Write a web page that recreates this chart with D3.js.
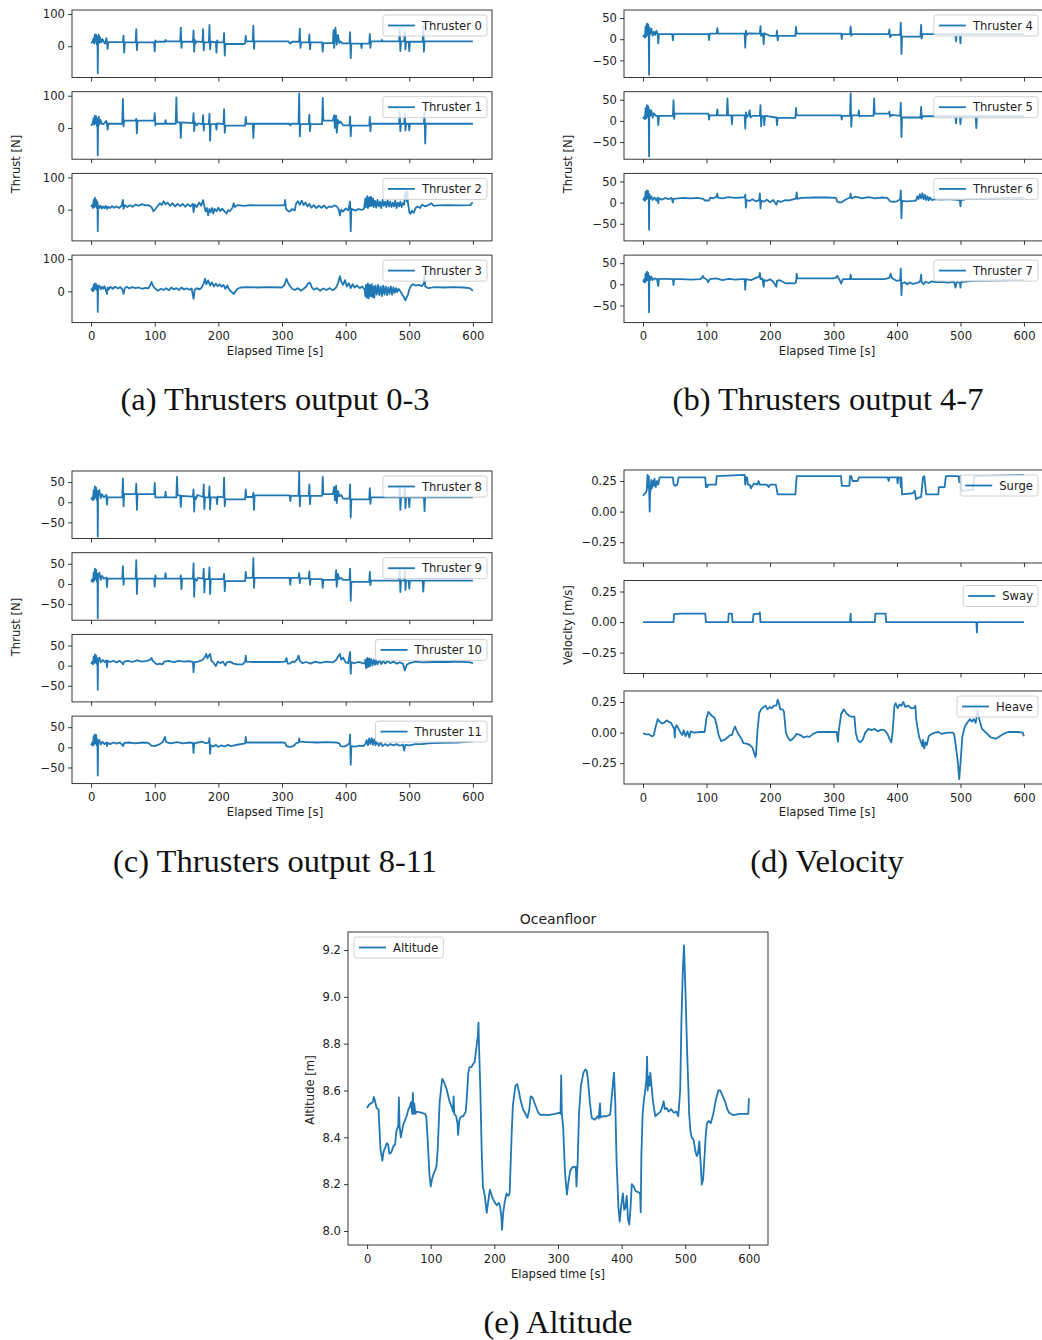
<!DOCTYPE html>
<html>
<head>
<meta charset="utf-8">
<script src="https://cdnjs.cloudflare.com/ajax/libs/d3/7.8.5/d3.min.js"></script>
<style>
  body { margin: 0; background: #fff; }
  text { font-family: "DejaVu Sans", sans-serif; fill: #222; }
  .caption { font-family: "Liberation Serif", "DejaVu Serif", serif; fill: #111; }
</style>
</head>
<body>
<script>
// ---- data (time [s], value) ----
var timeTicks = [0, 100, 200, 300, 400, 500, 600];
var thrustTicksA = [0, 100];
var thrustTicksB = [-50, 0, 50];
var velTicks = [-0.25, 0, 0.25];
var altTicks = [8.0, 8.2, 8.4, 8.6, 8.8, 9.0, 9.2];
var thrusterNames = ["Thruster 0","Thruster 1","Thruster 2","Thruster 3","Thruster 4","Thruster 5",
  "Thruster 6","Thruster 7","Thruster 8","Thruster 9","Thruster 10","Thruster 11"];
var velocityNames = ["Surge", "Sway", "Heave"];
var captions = ["(a) Thrusters output 0-3", "(b) Thrusters output 4-7", "(c) Thrusters output 8-11", "(d) Velocity", "(e) Altitude"];

var thrust0 = [[0,10],[2,12],[4,25],[5,8],[6,37],[7,15],[8,35],[9,5],[10,30],[10.5,-84],[11,20],[12,36],[13,10],[14,28],[16,12],[18,22],[20,13],[22,8],[24,25],[25,13],[26,-8],[27,13],[50,13],[51,33],[52,-20],[53,12],[70,12],[71,53],[72,-12],[73,12],[99,12],[100,-16],[101,18],[102,14],[116,14],[117,20],[118,15],[140,15],[141,58],[142,-5],[143,14],[160,14],[161,49],[162,-17],[163,20],[164,8],[166,15],[175,13],[176,53],[177,-13],[178,12],[185,12],[186,66],[187,-10],[188,14],[196,13],[197,-20],[198,18],[200,12],[208,12],[209,41],[210,-29],[211,7],[240,7],[242,9],[243,33],[244,15],[254,15],[255,64],[256,-8],[257,15],[310,15],[313,8],[316,14],[327,14],[328,55],[329,-5],[330,12],[342,12],[343,37],[344,-10],[345,12],[363,12],[364,-17],[365,10],[380,10],[381,50],[382,-5],[384,58],[386,5],[388,35],[390,10],[392,15],[395,9],[406,9],[407,44],[408,-37],[409,8],[424,8],[425,-6],[426,8],[437,8],[438,38],[439,-5],[440,15],[456,15],[457,20],[458,15],[484,15],[485,53],[486,-15],[487,15],[492,15],[493,45],[494,-10],[495,14],[499,14],[500,-15],[501,14],[521,14],[522,63],[523,-17],[524,15],[600,15]];
var thrust1 = [[0,7],[2,12],[4,30],[5,10],[6,38],[7,15],[8,36],[9,6],[10,28],[10.5,-85],[11,20],[12,35],[13,10],[15,25],[17,12],[20,13],[24,22],[25,13],[26,-5],[27,13],[49,13],[50,90],[51,5],[52,23],[70,23],[71,28],[72,-17],[73,23],[99,23],[100,46],[101,8],[102,13],[116,13],[117,24],[118,13],[133,13],[134,95],[135,17],[140,17],[141,-31],[142,17],[160,15],[161,46],[162,-10],[163,18],[166,8],[168,14],[175,12],[176,40],[177,-8],[178,12],[185,12],[186,44],[187,-40],[188,12],[196,12],[197,-5],[198,14],[208,12],[209,58],[210,-15],[211,7],[242,7],[243,34],[244,13],[254,13],[255,-31],[256,13],[312,13],[313,8],[315,13],[326,13],[327,107],[328,-26],[329,12],[342,12],[343,41],[344,-10],[345,12],[363,12],[364,93],[365,23],[380,23],[382,40],[383,0],[385,38],[386,-15],[388,25],[390,15],[392,20],[396,8],[406,8],[407,36],[408,-26],[409,7],[437,7],[438,34],[439,-10],[440,13],[484,13],[485,51],[486,-10],[487,13],[492,13],[493,45],[494,-8],[495,13],[499,13],[500,-8],[501,13],[523,13],[524,48],[525,-48],[526,13],[600,13]];
var thrust2 = [[0,9],[2,15],[3,5],[4,30],[5,8],[6,37],[7,10],[8,30],[9,5],[10,25],[10.5,-67],[11,15],[13,5],[15,12],[17,3],[19,10],[21,4],[23,12],[25,2],[27,9],[30,5],[33,11],[36,6],[40,10],[44,5],[48,12],[50,30],[51,3],[53,14],[57,8],[61,14],[65,9],[70,16],[75,12],[80,17],[85,13],[90,14],[95,8],[98,-5],[101,2],[105,12],[108,20],[111,14],[114,26],[117,16],[120,22],[124,12],[128,20],[132,10],[136,18],[140,11],[144,18],[148,9],[152,17],[156,10],[160,18],[161,-8],[163,16],[166,8],[170,22],[173,12],[176,30],[178,10],[180,-5],[182,5],[184,-18],[186,2],[188,-8],[190,5],[192,-12],[194,3],[197,-5],[200,6],[203,-4],[206,3],[210,-6],[213,-12],[215,-2],[218,-5],[222,5],[224,20],[226,8],[230,14],[240,12],[250,14],[260,13],[280,13],[300,13],[304,15],[305,30],[306,5],[308,-2],[312,-6],[316,2],[320,-3],[322,18],[325,26],[328,15],[331,28],[334,14],[337,22],[340,10],[343,18],[346,6],[350,14],[354,5],[358,12],[362,6],[366,13],[370,4],[374,10],[378,8],[382,13],[386,10],[389,2],[391,-18],[393,0],[396,-6],[400,4],[404,-2],[407,25],[408,-67],[409,3],[412,0],[416,-3],[420,2],[425,-1],[429,3],[431,35],[432,8],[434,42],[435,5],[437,38],[438,10],[440,40],[441,12],[443,35],[444,8],[446,28],[448,6],[450,30],[452,10],[454,25],[456,5],[458,30],[460,12],[462,25],[464,8],[466,30],[468,10],[470,25],[472,8],[474,22],[476,10],[478,28],[480,5],[482,22],[484,10],[486,25],[488,8],[490,20],[492,15],[493,45],[495,55],[496,25],[497,57],[498,20],[500,-8],[502,-13],[504,-3],[507,-10],[510,5],[513,10],[517,5],[520,15],[525,10],[530,14],[535,20],[538,12],[545,13],[560,14],[580,13],[596,14],[598,20],[600,22]];
var thrust3 = [[0,2],[2,10],[3,0],[4,20],[5,5],[6,25],[7,8],[8,22],[9,4],[10,18],[10.5,-64],[11,10],[13,18],[15,6],[17,14],[19,8],[21,16],[23,5],[25,-8],[26,12],[28,6],[30,14],[34,8],[38,14],[42,9],[46,13],[49,6],[51,-8],[53,10],[56,14],[60,9],[65,13],[70,10],[75,12],[80,8],[85,11],[90,9],[93,20],[95,29],[97,18],[100,10],[105,2],[110,8],[114,4],[118,10],[122,3],[126,12],[130,6],[134,10],[138,4],[142,12],[146,6],[150,9],[155,5],[158,9],[161,-23],[163,5],[166,10],[170,6],[174,12],[177,25],[179,39],[181,22],[184,34],[187,18],[190,28],[193,15],[196,24],[199,16],[202,22],[205,14],[208,20],[211,8],[214,18],[217,5],[220,0],[224,-8],[227,0],[230,8],[235,12],[245,13],[260,12],[280,13],[300,12],[304,20],[307,39],[310,24],[313,15],[316,8],[320,4],[325,10],[330,2],[334,8],[338,15],[341,25],[344,27],[347,12],[350,5],[355,10],[360,2],[365,9],[370,4],[375,10],[380,3],[385,12],[388,25],[391,47],[393,30],[396,20],[399,35],[402,15],[405,25],[408,10],[411,22],[414,12],[418,18],[422,10],[426,15],[430,5],[431,-15],[432,20],[433,-20],[435,25],[436,-22],[438,20],[439,-15],[441,22],[442,-18],[444,15],[445,-20],[447,18],[449,-10],[451,20],[453,-12],[455,15],[457,-15],[459,18],[461,-10],[463,15],[465,-12],[467,12],[469,-8],[471,15],[473,-10],[475,12],[477,-5],[479,10],[481,-3],[483,8],[486,0],[489,-10],[492,-20],[494,-28],[496,-18],[498,-10],[500,5],[503,18],[506,22],[510,18],[515,20],[520,16],[523,25],[524,52],[525,15],[530,10],[540,13],[555,12],[570,13],[585,12],[595,10],[600,2]];
var thrust4 = [[0,5],[2,10],[3,4],[4,30],[5,6],[6,37],[7,10],[8,35],[9,5],[9.5,-84],[10,28],[11,12],[13,25],[15,8],[17,18],[19,10],[21,20],[23,12],[24,-10],[25,12],[46,12],[47,-3],[48,12],[103,12],[104,-2],[105,13],[116,13],[117,26],[118,13],[160,13],[161,-20],[162,20],[163,10],[166,14],[184,13],[185,31],[186,8],[189,13],[190,-12],[191,14],[200,8],[210,8],[211,20],[212,-3],[213,8],[240,8],[241,29],[242,13],[312,13],[313,0],[314,12],[326,12],[327,30],[328,8],[330,12],[387,12],[388,23],[389,5],[392,10],[405,10],[406,39],[407,-35],[408,6],[437,6],[438,34],[439,2],[440,12],[492,12],[493,-5],[494,12],[499,12],[500,-10],[501,12],[600,12]];
var thrust5 = [[0,5],[2,10],[3,4],[4,30],[5,6],[6,37],[7,10],[8,35],[9,5],[9.5,-84],[10,28],[11,12],[13,25],[15,8],[17,18],[20,12],[23,12],[24,-10],[25,12],[47,12],[48,49],[49,5],[50,17],[103,17],[104,3],[105,13],[116,13],[117,27],[118,13],[132,13],[133,53],[134,13],[139,13],[140,-8],[141,13],[160,13],[161,-18],[162,20],[163,8],[166,14],[168,25],[169,8],[172,12],[184,12],[185,37],[186,-13],[187,12],[190,10],[191,-10],[192,12],[210,8],[211,-10],[212,7],[240,7],[241,31],[242,13],[312,13],[313,3],[314,12],[326,12],[327,65],[328,-14],[329,13],[339,13],[340,25],[341,10],[342,12],[363,12],[364,53],[365,17],[387,17],[388,22],[389,10],[392,14],[405,12],[406,43],[407,-38],[408,8],[437,8],[438,33],[439,5],[440,11],[492,11],[493,-6],[494,11],[499,11],[500,-8],[501,11],[524,11],[525,-17],[526,11],[600,11]];
var thrust6 = [[0,5],[2,12],[3,4],[4,25],[5,8],[6,29],[7,10],[8,27],[9,5],[9.5,-64],[10,20],[11,8],[13,15],[15,6],[18,12],[21,5],[23,12],[24,-2],[25,10],[30,7],[35,11],[40,8],[45,11],[47,0],[48,9],[55,10],[65,11],[75,10],[85,11],[95,9],[97,5],[104,5],[106,12],[110,10],[116,14],[117,21],[118,12],[125,10],[135,13],[145,11],[155,12],[160,13],[161,19],[162,-12],[163,6],[168,4],[172,8],[178,3],[183,6],[184,22],[185,-14],[186,5],[190,2],[195,7],[200,1],[205,6],[210,-5],[212,4],[218,2],[224,6],[230,5],[238,8],[241,10],[242,24],[243,9],[250,11],[270,12],[290,12],[304,11],[306,2],[312,0],[315,3],[320,8],[326,12],[327,21],[328,10],[335,14],[345,10],[355,13],[365,10],[375,12],[385,11],[389,3],[395,2],[400,3],[405,8],[406,29],[407,-37],[408,4],[415,3],[425,4],[430,5],[432,15],[434,8],[436,20],[438,10],[440,22],[442,8],[444,18],[446,6],[448,15],[450,5],[452,12],[455,6],[460,8],[470,7],[480,8],[490,7],[499,6],[500,-9],[501,6],[510,8],[530,9],[560,10],[590,11],[600,12]];
var thrust7 = [[0,5],[2,12],[3,4],[4,25],[5,8],[6,30],[7,10],[8,27],[9,5],[9.5,-66],[10,20],[11,10],[13,18],[15,10],[18,14],[22,12],[24,-4],[25,13],[35,13],[47,12],[48,-2],[49,12],[60,12],[75,11],[90,12],[93,16],[94,20],[96,15],[100,12],[103,5],[105,12],[115,14],[125,10],[135,13],[145,11],[155,12],[160,12],[161,-13],[162,12],[170,10],[178,15],[183,18],[184,27],[185,12],[188,14],[190,-6],[191,10],[195,8],[200,12],[205,6],[210,-6],[211,8],[215,10],[220,6],[225,2],[232,3],[238,2],[241,5],[242,25],[243,14],[270,14],[300,14],[304,16],[306,20],[309,12],[312,2],[315,12],[326,12],[327,23],[328,12],[340,12],[360,12],[380,12],[388,15],[390,25],[392,15],[400,8],[405,10],[406,37],[407,-26],[408,2],[412,5],[416,0],[420,4],[425,1],[430,3],[435,5],[437,10],[438,23],[439,5],[442,0],[445,6],[450,3],[455,7],[460,5],[470,6],[480,4],[490,6],[492,-8],[494,5],[499,4],[500,-8],[501,5],[520,8],[550,9],[580,10],[600,10]];
var thrust8 = [[0,7],[2,12],[3,5],[4,30],[5,8],[6,39],[7,12],[8,36],[9,6],[10,28],[10.5,-85],[11,18],[13,30],[15,10],[17,20],[20,12],[24,18],[25,-6],[26,12],[49,12],[50,59],[51,-10],[52,20],[70,20],[71,46],[72,-19],[73,20],[99,20],[100,48],[101,12],[116,12],[117,26],[118,12],[134,12],[135,63],[136,17],[140,17],[141,-12],[142,16],[160,14],[161,32],[162,-23],[163,14],[165,8],[167,18],[176,13],[177,44],[178,-17],[179,12],[185,12],[186,39],[187,-18],[188,12],[197,12],[198,-5],[199,14],[208,12],[209,61],[210,-10],[211,7],[242,7],[243,32],[244,13],[254,13],[255,24],[256,-19],[257,17],[312,17],[313,3],[314,16],[326,16],[327,75],[328,-10],[329,16],[342,16],[343,44],[344,-5],[345,16],[363,16],[364,63],[365,20],[380,20],[382,38],[383,5],[385,41],[386,-2],[388,28],[390,15],[393,18],[396,9],[406,9],[407,44],[408,-38],[409,7],[437,7],[438,35],[439,-4],[440,12],[484,12],[485,39],[486,-19],[487,12],[492,12],[493,39],[494,-15],[495,12],[499,12],[500,-12],[501,12],[523,12],[524,-22],[525,12],[600,12]];
var thrust9 = [[0,5],[2,12],[3,5],[4,28],[5,8],[6,38],[7,12],[8,35],[9,6],[10,25],[10.5,-85],[11,18],[13,28],[15,10],[17,20],[20,13],[24,16],[25,-8],[26,13],[49,13],[50,44],[51,-2],[52,13],[70,13],[71,59],[72,-25],[73,13],[99,13],[100,-7],[101,21],[102,13],[116,13],[117,27],[118,13],[140,13],[141,21],[142,-13],[143,13],[160,13],[161,51],[162,-32],[163,13],[166,8],[168,15],[176,13],[177,38],[178,-21],[179,12],[185,12],[186,41],[187,-25],[188,12],[208,12],[209,25],[210,-18],[211,7],[242,7],[243,30],[244,15],[254,15],[255,64],[256,-10],[257,15],[312,15],[313,-2],[314,15],[326,15],[327,27],[328,2],[329,14],[342,14],[343,31],[344,-2],[345,12],[363,12],[364,-10],[365,10],[384,10],[385,34],[386,-7],[388,25],[390,12],[393,15],[396,10],[406,10],[407,38],[408,-42],[409,5],[437,5],[438,30],[439,-3],[440,8],[484,8],[485,38],[486,-20],[487,8],[492,8],[493,35],[494,-15],[495,8],[499,8],[500,-12],[501,8],[521,8],[522,-19],[523,8],[600,8]];
var thrust10 = [[0,4],[2,10],[3,3],[4,22],[5,6],[6,28],[7,8],[8,25],[9,4],[10,18],[10.5,-60],[11,10],[13,20],[15,8],[18,14],[21,9],[24,13],[25,-4],[26,12],[30,9],[35,12],[40,8],[45,12],[49,6],[50,3],[52,10],[58,12],[65,9],[72,13],[80,10],[88,12],[93,15],[95,19],[97,12],[101,6],[104,3],[108,5],[112,3],[115,10],[122,12],[130,9],[138,12],[146,10],[154,11],[160,9],[161,-16],[162,8],[168,10],[175,14],[179,22],[181,29],[183,18],[185,25],[187,29],[189,12],[192,8],[196,-1],[199,10],[203,6],[207,10],[211,0],[213,8],[218,10],[224,5],[230,3],[238,3],[242,10],[243,25],[244,10],[255,9],[275,9],[295,9],[305,10],[307,19],[309,5],[312,5],[316,10],[320,9],[324,16],[326,25],[328,12],[332,6],[338,9],[345,5],[352,10],[360,7],[370,10],[380,8],[385,14],[388,22],[391,29],[393,15],[396,20],[400,8],[404,6],[407,34],[408,-20],[409,8],[414,6],[420,9],[426,7],[430,5],[431,15],[432,-6],[434,19],[435,-4],[437,18],[438,-2],[440,16],[442,0],[444,15],[446,2],[448,14],[450,3],[453,14],[456,4],[459,12],[462,5],[466,12],[470,6],[475,10],[480,5],[485,8],[490,5],[493,-12],[496,2],[500,6],[510,10],[520,8],[540,9],[560,9],[580,10],[596,8],[600,6]];
var thrust11 = [[0,5],[2,12],[3,4],[4,28],[5,8],[6,32],[7,10],[8,30],[9,5],[10,20],[10.5,-70],[11,10],[13,18],[15,7],[18,14],[21,8],[24,12],[25,3],[26,11],[30,8],[35,12],[40,9],[45,12],[49,6],[50,3],[52,11],[60,12],[70,10],[80,12],[90,11],[95,4],[100,3],[103,5],[108,8],[113,14],[116,26],[118,13],[125,10],[135,13],[145,10],[155,12],[160,11],[161,-14],[162,10],[168,12],[175,14],[180,10],[185,12],[186,23],[187,-16],[188,5],[192,2],[196,6],[200,1],[205,5],[210,2],[215,6],[220,3],[225,5],[232,7],[240,9],[242,10],[243,26],[244,12],[260,12],[280,12],[300,12],[305,11],[307,3],[312,1],[318,3],[322,10],[326,12],[327,22],[328,14],[340,13],[355,12],[370,13],[385,12],[390,10],[392,3],[398,2],[402,5],[406,10],[407,32],[408,-43],[409,3],[415,2],[422,4],[428,3],[431,8],[433,18],[435,5],[437,22],[439,8],[441,23],[443,6],[445,20],[447,5],[449,15],[452,4],[455,12],[458,3],[462,8],[466,4],[470,8],[475,5],[480,8],[485,4],[490,7],[492,-8],[494,6],[500,5],[510,8],[520,8],[530,10],[550,11],[575,12],[600,15]];

var surge = [[0,0.13],[3,0.15],[5,0.16],[6,0.18],[7,0.30],[8,0.20],[9,0.29],[10,0.10],[10.5,0.0],[11,0.15],[12,0.18],[13,0.26],[14,0.19],[16,0.25],[17,0.21],[18,0.27],[20,0.20],[22,0.25],[24,0.22],[26,0.28],[47,0.28],[48,0.23],[50,0.21],[54,0.22],[56,0.28],[98,0.28],[99,0.20],[100,0.22],[101,0.20],[103,0.22],[115,0.22],[116,0.29],[160,0.30],[161,0.22],[162,0.28],[164,0.28],[165,0.22],[168,0.22],[170,0.19],[172,0.21],[175,0.23],[180,0.22],[182,0.25],[184,0.22],[195,0.22],[198,0.20],[200,0.22],[209,0.22],[210,0.20],[212,0.14],[240,0.14],[242,0.29],[312,0.29],[313,0.21],[325,0.21],[326,0.29],[328,0.29],[330,0.25],[338,0.25],[340,0.28],[385,0.28],[387,0.25],[388,0.28],[400,0.28],[401,0.23],[402,0.28],[405,0.28],[406,0.20],[407,0.28],[408,0.14],[425,0.15],[428,0.17],[430,0.10],[432,0.11],[438,0.12],[441,0.28],[443,0.29],[446,0.14],[448,0.14],[465,0.14],[466,0.20],[475,0.20],[477,0.29],[497,0.29],[498,0.24],[500,0.29],[502,0.17],[520,0.18],[522,0.29],[600,0.30]];
var sway = [[0,0],[48,0],[49,0.065],[60,0.07],[98,0.07],[99,0],[134,0],[135,0.07],[140,0.07],[141,0],[173,0],[174,0.065],[183,0.07],[184,0.08],[185,0],[326,0],[327,0.07],[327.5,0],[365,0],[366,0.07],[382,0.07],[383,0],[525,0],[526,-0.085],[526.5,0],[600,0]];
var heave = [[0,-0.005],[5,-0.015],[10,-0.015],[12,-0.025],[15,-0.03],[17,-0.02],[20,0.05],[23,0.11],[26,0.09],[30,0.075],[33,0.08],[37,0.10],[40,0.09],[44,0.08],[47,0.05],[49,0.03],[50,-0.04],[51,0.04],[53,0.06],[56,0.03],[59,0.0],[62,-0.02],[64,0.02],[67,-0.03],[70,0.01],[73,-0.04],[75,0.01],[80,0.0],[90,0.005],[97,0.005],[100,0.12],[103,0.17],[106,0.15],[110,0.13],[113,0.12],[116,0.06],[119,-0.02],[123,-0.07],[128,-0.06],[133,-0.04],[137,-0.02],[140,-0.02],[143,0.03],[145,0.05],[147,0.02],[150,-0.01],[155,-0.05],[158,-0.086],[163,-0.09],[168,-0.10],[172,-0.12],[174,-0.15],[177,-0.2],[178,-0.18],[180,0.0],[183,0.16],[186,0.19],[190,0.21],[193,0.22],[196,0.19],[200,0.21],[203,0.20],[206,0.22],[210,0.22],[212,0.27],[214,0.24],[216,0.19],[220,0.19],[222,0.17],[225,0.0],[228,-0.04],[232,-0.065],[236,-0.05],[242,-0.01],[248,-0.02],[253,-0.04],[258,-0.03],[262,-0.035],[268,-0.01],[275,0.005],[285,0.005],[300,0.005],[305,0.005],[307,-0.075],[308,0.0],[312,0.15],[316,0.19],[320,0.16],[324,0.14],[328,0.13],[333,0.13],[335,0.0],[338,-0.06],[342,-0.08],[346,-0.06],[350,0.0],[355,0.03],[360,0.02],[365,0.03],[370,0.01],[375,0.025],[380,0.02],[385,-0.01],[388,-0.05],[391,-0.08],[393,0.0],[396,0.22],[398,0.24],[401,0.2],[404,0.23],[407,0.22],[410,0.25],[413,0.21],[418,0.22],[422,0.2],[427,0.2],[429,0.22],[430,0.12],[432,0.05],[435,-0.04],[438,-0.08],[440,-0.11],[441,-0.06],[443,-0.13],[445,-0.08],[447,-0.1],[450,-0.03],[455,-0.01],[460,0.0],[465,0.005],[470,-0.01],[480,0.0],[488,0.0],[490,-0.01],[493,-0.12],[496,-0.25],[498,-0.38],[500,-0.25],[503,-0.03],[507,0.05],[512,0.09],[515,0.11],[518,0.09],[521,0.11],[524,0.08],[527,0.18],[530,0.10],[534,0.03],[540,0.0],[548,-0.04],[556,-0.05],[562,-0.03],[568,-0.01],[575,0.005],[590,0.005],[598,0.0],[600,-0.03]];

var altitude = [[0,8.525],[3,8.54],[6,8.545],[9,8.55],[10.5,8.573],[12,8.56],[15,8.525],[18,8.52],[21,8.35],[24,8.30],[26,8.34],[29,8.36],[31,8.375],[33,8.37],[35,8.33],[38,8.335],[41,8.36],[44,8.37],[46,8.425],[49,8.45],[50,8.57],[51,8.45],[53,8.40],[57,8.455],[62,8.49],[65,8.52],[67,8.53],[69,8.55],[71,8.5],[72,8.59],[73,8.5],[74,8.545],[76,8.5],[78,8.51],[85,8.505],[91,8.50],[93,8.49],[96,8.35],[98,8.24],[100,8.19],[102,8.22],[104,8.24],[107,8.26],[109,8.275],[111,8.35],[114,8.55],[118,8.65],[121,8.635],[125,8.605],[128,8.57],[130,8.55],[133,8.53],[135,8.51],[136,8.575],[137,8.5],[140,8.49],[142,8.46],[143,8.41],[145,8.47],[146,8.483],[149,8.49],[151,8.49],[155,8.51],[157,8.58],[159,8.675],[161,8.70],[164,8.70],[167,8.715],[169,8.72],[172,8.79],[174,8.83],[175,8.89],[176,8.78],[178,8.6],[180,8.35],[182,8.19],[185,8.15],[188,8.077],[190,8.12],[193,8.176],[196,8.15],[198,8.135],[201,8.12],[204,8.11],[207,8.12],[209,8.105],[211,8.06],[212,8.005],[214,8.08],[216,8.12],[219,8.16],[222,8.15],[224,8.16],[227,8.4],[229,8.533],[233,8.62],[236,8.627],[239,8.59],[241,8.56],[245,8.52],[248,8.505],[252,8.483],[255,8.52],[257,8.575],[260,8.57],[264,8.54],[269,8.505],[273,8.495],[277,8.497],[285,8.495],[295,8.50],[303,8.505],[304,8.50],[305,8.664],[306,8.50],[308,8.45],[311,8.25],[314,8.155],[316,8.2],[319,8.255],[322,8.27],[324,8.275],[327,8.27],[328,8.275],[329,8.19],[331,8.3],[333,8.5],[336,8.62],[340,8.676],[343,8.69],[345,8.685],[347,8.65],[350,8.55],[353,8.483],[358,8.475],[362,8.49],[364,8.48],[366,8.545],[367,8.485],[370,8.49],[376,8.49],[382,8.497],[385,8.59],[388,8.676],[390,8.55],[392,8.3],[395,8.1],[397,8.04],[399,8.1],[402,8.16],[404,8.09],[406,8.10],[408,8.15],[410,8.05],[412,8.027],[414,8.1],[416,8.20],[419,8.19],[422,8.17],[427,8.165],[429,8.16],[430,8.08],[431,8.32],[433,8.5],[435,8.56],[437,8.6],[439,8.65],[440,8.745],[441,8.6],[442,8.66],[444,8.62],[445,8.676],[447,8.62],[449,8.56],[451,8.52],[453,8.49],[457,8.50],[461,8.51],[464,8.53],[466,8.554],[468,8.52],[471,8.525],[474,8.51],[478,8.52],[482,8.505],[486,8.51],[489,8.49],[492,8.6],[494,8.9],[496,9.1],[498,9.22],[500,9.05],[503,8.76],[505,8.6],[506,8.505],[508,8.43],[510,8.4],[513,8.39],[516,8.34],[518,8.32],[520,8.33],[522,8.383],[524,8.3],[526,8.198],[528,8.22],[530,8.305],[532,8.4],[534,8.46],[537,8.47],[540,8.46],[544,8.5],[548,8.56],[552,8.6],[555,8.6],[559,8.575],[563,8.55],[566,8.52],[569,8.505],[575,8.495],[585,8.5],[592,8.5],[599,8.5],[600,8.567]];

var thrusters = [thrust0, thrust1, thrust2, thrust3, thrust4, thrust5, thrust6, thrust7, thrust8, thrust9, thrust10, thrust11];
var velocities = [surge, sway, heave];

// ---- drawing ----
var svgWidth = 1042, svgHeight = 1340;
var blue = "#1f77b4";
var fs = 11.6;

var svg = d3.select("body").append("svg")
    .attr("width", svgWidth)
    .attr("height", svgHeight);

function subplot(o) {
  var g = svg.append("g");
  var x = d3.scaleLinear().domain([-30, 630]).range([o.x0, o.x1]);
  var y = d3.scaleLinear().domain(o.yDomain).range([o.top + o.h, o.top]);

  var line = d3.line().x(d => x(d[0])).y(d => y(d[1]));
  g.append("path")
    .datum(o.data)
    .attr("d", line)
    .attr("fill", "none")
    .attr("stroke", blue)
    .attr("stroke-width", 1.8)
    .attr("stroke-linejoin", "round");

  var xAxis = d3.axisBottom(x).tickValues(timeTicks).tickSize(4).tickPadding(5.5)
    .tickFormat(o.showX ? d3.format("d") : "");
  var gx = g.append("g").attr("transform", `translate(0, ${o.top + o.h})`).call(xAxis);
  var yAxis = d3.axisLeft(y).tickValues(o.yTicks).tickSize(4).tickPadding(3).tickFormat(o.yFmt);
  var gy = g.append("g").attr("transform", `translate(${o.x0}, 0)`).call(yAxis);
  [gx, gy].forEach(function(a) {
    a.select(".domain").remove();
    a.selectAll("line").attr("stroke", "#222").attr("stroke-width", 0.9);
    a.selectAll("text").attr("font-size", fs).attr("font-family", "DejaVu Sans").attr("fill", "#222");
  });

  g.append("rect")
    .attr("x", o.x0).attr("y", o.top)
    .attr("width", o.x1 - o.x0).attr("height", o.h)
    .attr("fill", "none").attr("stroke", "#222").attr("stroke-width", 0.9);

  // legend
  var lg = g.append("g");
  var box = lg.append("rect").attr("rx", 2.5).attr("ry", 2.5)
    .attr("fill", "white").attr("fill-opacity", 0.8)
    .attr("stroke", "#cccccc").attr("stroke-width", 0.9);
  var txt = lg.append("text").text(o.label).attr("font-size", fs);
  var tw = txt.node().getComputedTextLength();
  var bw = 4 + 27 + 8 + tw + 5, bh = 21;
  var bx = o.legendLeft ? o.x0 + 6 : o.x1 - 5 - bw;
  var by = o.top + 5;
  box.attr("x", bx).attr("y", by).attr("width", bw).attr("height", bh);
  lg.append("line")
    .attr("x1", bx + 5).attr("x2", bx + 32)
    .attr("y1", by + bh / 2).attr("y2", by + bh / 2)
    .attr("stroke", blue).attr("stroke-width", 1.8);
  txt.attr("x", bx + 39).attr("y", by + bh / 2).attr("dy", "0.36em");
}

function label(x, y, s, rotate, size) {
  var t = svg.append("text")
    .attr("text-anchor", "middle")
    .attr("font-size", size || fs)
    .text(s);
  if (rotate) t.attr("transform", `translate(${x}, ${y}) rotate(-90)`).attr("dy", "0.36em");
  else t.attr("x", x).attr("y", y).attr("dy", "0.36em");
  return t;
}

var intFmt = d3.format("d");
var velFmt = d3.format(".2f");
var altFmt = d3.format(".1f");

// (a) and (b): thrusters 0-7
for (var i = 0; i < 8; i++) {
  var col = Math.floor(i / 4), row = i % 4;
  subplot({
    x0: col === 0 ? 72 : 624, x1: col === 0 ? 492 : 1043,
    top: 10 + row * 81.7, h: 67.5,
    yDomain: col === 0 ? [-97, 112.5] : [-90.5, 69],
    yTicks: col === 0 ? thrustTicksA : thrustTicksB, yFmt: intFmt,
    data: thrusters[i], label: thrusterNames[i], showX: row === 3
  });
}
// (c): thrusters 8-11
for (var j = 0; j < 4; j++) {
  subplot({
    x0: 72, x1: 492, top: 471 + j * 81.7, h: 67.5,
    yDomain: [-90, 77.5], yTicks: thrustTicksB, yFmt: intFmt,
    data: thrusters[8 + j], label: thrusterNames[8 + j], showX: j === 3
  });
}
// (d): velocities
for (var k = 0; k < 3; k++) {
  subplot({
    x0: 624, x1: 1043, top: 470 + k * 110.5, h: 93,
    yDomain: [-0.42, 0.34], yTicks: velTicks, yFmt: velFmt,
    data: velocities[k], label: velocityNames[k], showX: k === 2
  });
}
// (e): altitude
subplot({
  x0: 348, x1: 768, top: 932, h: 313,
  yDomain: [7.94, 9.277], yTicks: altTicks, yFmt: altFmt,
  data: altitude, label: "Altitude", showX: true, legendLeft: true
});

// axis titles
label(275, 351, "Elapsed Time [s]");
label(827, 351, "Elapsed Time [s]");
label(275, 812, "Elapsed Time [s]");
label(827, 812, "Elapsed Time [s]");
label(558, 1274, "Elapsed time [s]");
label(16, 164, "Thrust [N]", true);
label(568, 164, "Thrust [N]", true);
label(16, 627, "Thrust [N]", true);
label(568, 625, "Velocity [m/s]", true);
label(310, 1090, "Altitude [m]", true);
label(558, 919, "Oceanfloor", false, 14);

// captions
var capPos = [[275, 399], [828, 399], [275, 861], [827, 861], [558, 1322]];
captions.forEach(function(c, idx) {
  svg.append("text")
    .attr("class", "caption")
    .attr("x", capPos[idx][0]).attr("y", capPos[idx][1])
    .attr("dy", "0.33em")
    .attr("text-anchor", "middle")
    .attr("font-size", 32.5)
    .text(c);
});
</script>
</body>
</html>
